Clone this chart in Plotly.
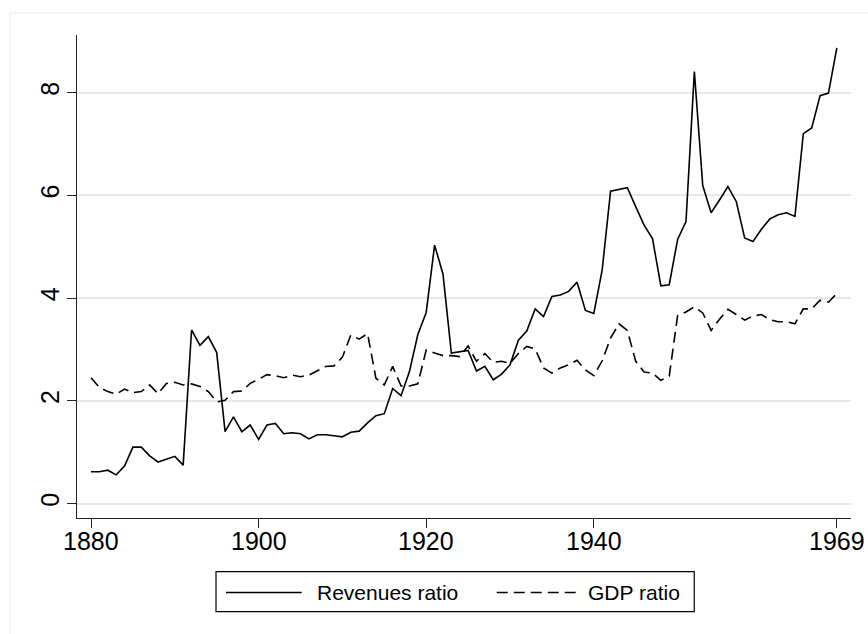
import plotly.graph_objects as go

# Annual series, 1880-1969
years = list(range(1880, 1970))

revenues_ratio = [
    0.62, 0.62, 0.65, 0.56, 0.73, 1.10, 1.10, 0.93, 0.81, 0.86,
    0.92, 0.75, 3.38, 3.08, 3.25, 2.94, 1.40, 1.69, 1.40, 1.53,
    1.25, 1.53, 1.56, 1.36, 1.38, 1.36, 1.26, 1.34, 1.34, 1.32,
    1.30, 1.39, 1.41, 1.57, 1.71, 1.75, 2.24, 2.10, 2.57, 3.29,
    3.72, 5.03, 4.47, 2.93, 2.96, 2.98, 2.58, 2.67, 2.41, 2.52,
    2.70, 3.18, 3.36, 3.79, 3.64, 4.03, 4.06, 4.13, 4.31, 3.76,
    3.70, 4.55, 6.08, 6.11, 6.15, 5.78, 5.42, 5.16, 4.24, 4.26,
    5.14, 5.49, 8.41, 6.19, 5.66, 5.91, 6.17, 5.88, 5.17, 5.10,
    5.34, 5.54, 5.62, 5.66, 5.59, 7.20, 7.31, 7.94, 7.99, 8.87,
]

gdp_ratio = [
    2.45, 2.26, 2.18, 2.13, 2.23, 2.16, 2.18, 2.31, 2.14, 2.34,
    2.36, 2.31, 2.33, 2.28, 2.18, 1.98, 2.01, 2.18, 2.19, 2.34,
    2.42, 2.51, 2.49, 2.45, 2.50, 2.47, 2.50, 2.58, 2.67, 2.68,
    2.85, 3.28, 3.20, 3.31, 2.44, 2.31, 2.67, 2.29, 2.29, 2.33,
    2.99, 2.93, 2.88, 2.88, 2.86, 3.07, 2.77, 2.92, 2.75, 2.77,
    2.73, 2.92, 3.06, 3.01, 2.64, 2.54, 2.64, 2.70, 2.79, 2.60,
    2.49, 2.78, 3.22, 3.50, 3.37, 2.77, 2.56, 2.54, 2.40, 2.48,
    3.66, 3.73, 3.83, 3.71, 3.37, 3.59, 3.78, 3.68, 3.57, 3.65,
    3.68, 3.58, 3.54, 3.54, 3.50, 3.79, 3.79, 3.96, 3.92, 4.09,
]

x_ticks = [1880, 1900, 1920, 1940, 1969]
y_ticks = [0, 2, 4, 6, 8]

series_names = ["Revenues ratio", "GDP ratio"]

FONT = "Liberation Sans, Arial, Helvetica, sans-serif"
DASH = "11px,6px"

fig = go.Figure()
fig.add_trace(go.Scatter(
    x=years, y=revenues_ratio, mode="lines", name=series_names[0],
    line=dict(color="black", width=1.6), showlegend=False,
))
fig.add_trace(go.Scatter(
    x=years, y=gdp_ratio, mode="lines", name=series_names[1],
    line=dict(color="black", width=1.6, dash=DASH), showlegend=False,
))

# Outer graph-region frame
fig.add_shape(type="rect", xref="paper", yref="paper",
              x0=-0.0866, x1=1.05, y0=-0.27, y1=1.0455,
              line=dict(color="#ebebeb", width=1), fillcolor="rgba(0,0,0,0)",
              layer="below")

# Legend box drawn below the plot
fig.add_shape(type="rect", xref="paper", yref="paper",
              x0=0.1796, x1=0.7975, y0=-0.194, y1=-0.1112,
              line=dict(color="black", width=1.2), fillcolor="white")
leg_y = -0.1542
fig.add_shape(type="line", xref="paper", yref="paper",
              x0=0.1925, x1=0.2903, y0=leg_y, y1=leg_y,
              line=dict(color="black", width=1.6))
fig.add_shape(type="line", xref="paper", yref="paper",
              x0=0.5423, x1=0.6443, y0=leg_y, y1=leg_y,
              line=dict(color="black", width=1.6, dash=DASH))
fig.add_annotation(text=series_names[0], xref="paper", yref="paper",
                   x=0.3075, y=leg_y, xanchor="left", yanchor="middle",
                   showarrow=False, font=dict(size=21, color="black", family=FONT))
fig.add_annotation(text=series_names[1], xref="paper", yref="paper",
                   x=0.657, y=leg_y, xanchor="left", yanchor="middle",
                   showarrow=False, font=dict(size=21, color="black", family=FONT))

# Year labels placed just under the x-axis ticks
for yr in x_ticks:
    fig.add_annotation(text=str(yr), x=yr, xref="x", y=-0.0476, yref="paper",
                       xanchor="center", yanchor="middle", showarrow=False,
                       font=dict(size=25, color="black", family=FONT))

fig.update_layout(
    width=868, height=634,
    margin=dict(l=77, r=17, t=35, b=116),
    paper_bgcolor="white", plot_bgcolor="white",
    font=dict(family=FONT, color="black", size=25),
    showlegend=False,
)
fig.update_xaxes(
    range=[1878.33, 1970.69], tickvals=x_ticks, showticklabels=False,
    showline=True, linecolor="#222", linewidth=1.3, mirror=False,
    ticks="outside", ticklen=9, tickwidth=1.2, tickcolor="#222",
    showgrid=False, zeroline=False,
)
fig.update_yaxes(
    range=[-0.28, 9.12], tickvals=y_ticks, ticktext=[str(v) for v in y_ticks],
    showline=True, linecolor="#222", linewidth=1.3, mirror=False,
    ticks="outside", ticklen=9, tickwidth=1.2, tickcolor="#222",
    showgrid=True, gridcolor="#e8e8e8", gridwidth=1.5, zeroline=False,
    tickangle=-90, tickfont=dict(size=25), ticklabelstandoff=-2,
)

fig.write_html("out.html")
